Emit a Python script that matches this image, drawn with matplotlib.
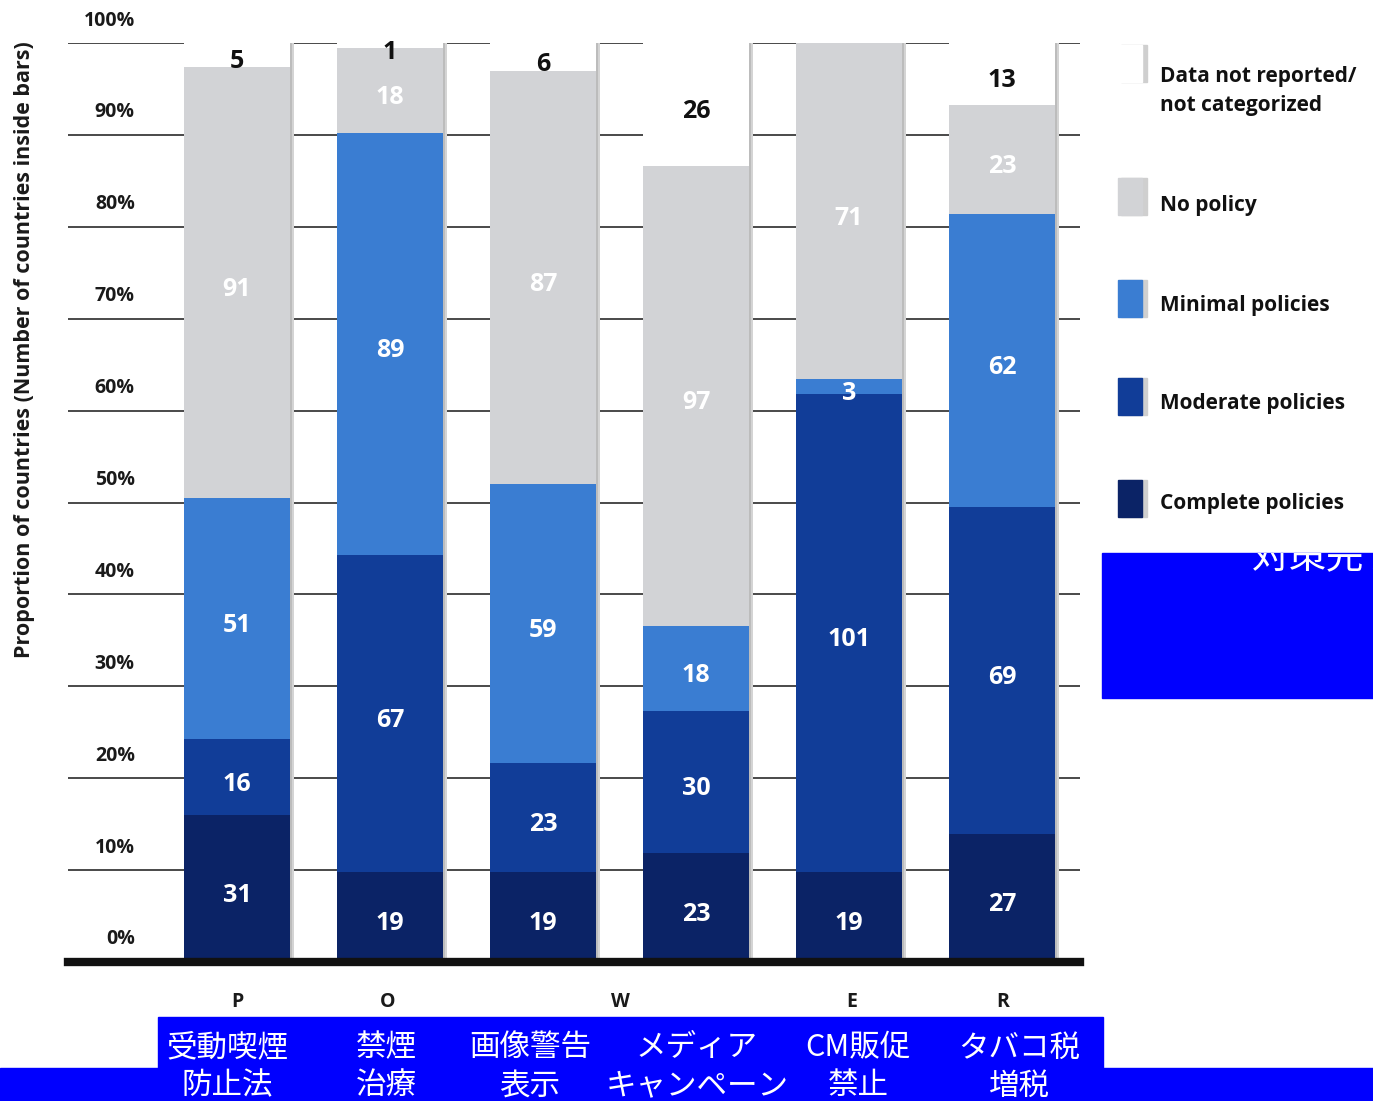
import matplotlib.pyplot as plt
from matplotlib.patches import Rectangle
from matplotlib.transforms import blended_transform_factory
import numpy as np

# MPOWER policy counts per measure (194 countries)
measures = ["P", "O", "W", "M", "E", "R"]
complete = [31, 19, 19, 23, 19, 27]
moderate = [16, 67, 23, 30, 101, 69]
minimal = [51, 89, 59, 18, 3, 62]
no_policy = [91, 18, 87, 97, 71, 23]
not_reported = [5, 1, 6, 26, 0, 13]

ja_line1 = ["受動喫煙", "禁煙", "画像警告", "メディア", "CM販促", "タバコ税"]
ja_line2 = ["防止法", "治療", "表示", "キャンペーン", "禁止", "増税"]
letters = ["P", "O", "W", "", "E", "R"]
yticks = list(range(0, 101, 10))

series = [
    ("Complete policies", complete, "#0b2366", "white"),
    ("Moderate policies", moderate, "#113d98", "white"),
    ("Minimal policies", minimal, "#3a7dd2", "white"),
    ("No policy", no_policy, "#d2d3d6", "white"),
    ("Data not reported/\nnot categorized", not_reported, "#ffffff", "#111111"),
]

W, H = 1373, 1101
def fx(px):
    return px / W
def fy(py):
    return 1 - py / H

FONT = "Open Sans"
plt.rcParams["font.family"] = [FONT, "DejaVu Sans"]

fig = plt.figure(figsize=(W / 100, H / 100), dpi=100)
ax = fig.add_axes([fx(68), fy(962), (1080 - 68) / W, (962 - 43) / H])

x = np.arange(len(measures))
width = 0.69
totals = np.sum([s[1] for s in series], axis=0)

# soft shadow on right side of bars
ax.bar(x + 0.03, [100] * len(x), width, color="#d4d4d4", zorder=1)
ax.bar(x + 0.015, [100] * len(x), width, color="#bcbcbc", zorder=1.2)

bottom = np.zeros(len(x))
for name, vals, color, tcol in series:
    pct = np.array(vals) / totals * 100
    ax.bar(x, pct, width, bottom=bottom, color=color, zorder=2)
    for xi, v, p, b in zip(x, vals, pct, bottom):
        if v > 0:
            ax.annotate(str(v), xy=(xi, b + p / 2), xytext=(0, -5),
                        textcoords="offset points", ha="center", va="center",
                        color=tcol, fontsize=18, fontweight="bold", zorder=4)
    bottom += pct

ax.set_xlim(-1.105, 5.51)
ax.set_ylim(0, 100)
ax.set_yticks(yticks)
ax.yaxis.grid(True, color="#2a2a2a", lw=1.2)
ax.set_axisbelow(True)
ax.tick_params(left=False, bottom=False, labelleft=False, labelbottom=False)
for sp in ax.spines.values():
    sp.set_visible(False)
ax.axhline(0, color="#111111", lw=6, zorder=5, clip_on=False)

trans = blended_transform_factory(ax.transAxes, ax.transData)
for t in yticks:
    ax.annotate(f"{t}%", xy=(0.066, t), xycoords=trans, xytext=(0, 9),
                textcoords="offset points", ha="right", va="bottom",
                fontsize=14, fontweight="bold", color="#1a1a1a")

fig.text(fx(25), fy(350), "Proportion of countries (Number of countries inside bars)",
         rotation=90, ha="center", va="center", fontsize=15.5,
         fontweight="bold", color="#1a1a1a")

# letters under the axis
letter_x = [237, 388, 620, 0, 852, 1003]
for lx, lt in zip(letter_x, letters):
    if lt:
        fig.text(fx(lx), fy(1002), lt, ha="center", va="center",
                 fontsize=14, fontweight="bold", color="#1a1a1a")

# legend
leg_items = [(s[0], s[2]) for s in series][::-1]
leg_sq = [45, 178, 280, 378, 480]
leg_tx = [91, 206, 305, 404, 503]
for (name, color), sy, ty in zip(leg_items, leg_sq, leg_tx):
    fig.add_artist(Rectangle((fx(1121), fy(sy + 37)), 26 / W, 37 / H,
                             transform=fig.transFigure, color="#cfcfcf"))
    fig.add_artist(Rectangle((fx(1118), fy(sy + 37)), 24 / W, 37 / H,
                             transform=fig.transFigure, color=color))
    fig.text(fx(1160), fy(ty), name, ha="left", va="center", fontsize=15,
             fontweight="bold", color="#111111", linespacing=1.5)

# blue overlay boxes with Japanese captions
BLUE = "#0000ff"
jp = ["Noto Sans CJK JP", "DejaVu Sans"]
fig.add_artist(Rectangle((fx(158), fy(1101)), (1103 - 158) / W, (1101 - 1017) / H,
                         transform=fig.transFigure, color=BLUE, zorder=10))
fig.add_artist(Rectangle((0, 0), 1, (1101 - 1068) / H,
                         transform=fig.transFigure, color=BLUE, zorder=10))
ja_x = [227, 386, 530, 697, 858, 1019]
for jx, l1, l2 in zip(ja_x, ja_line1, ja_line2):
    fig.text(fx(jx), fy(1048), l1, ha="center", va="center", fontsize=22,
             color="white", family=jp, zorder=11)
    fig.text(fx(jx), fy(1086), l2, ha="center", va="center", fontsize=22,
             color="white", family=jp, zorder=11)

box = Rectangle((fx(1102), fy(698)), (1373 - 1102) / W, (698 - 553) / H,
                transform=fig.transFigure, color=BLUE, zorder=10)
fig.add_artist(box)
t = fig.text(fx(1252), fy(558), "対策完了", ha="left", va="center", fontsize=27,
             color="white", family=jp, zorder=11)
t.set_clip_path(box)

fig.savefig("out.png", dpi=100)
